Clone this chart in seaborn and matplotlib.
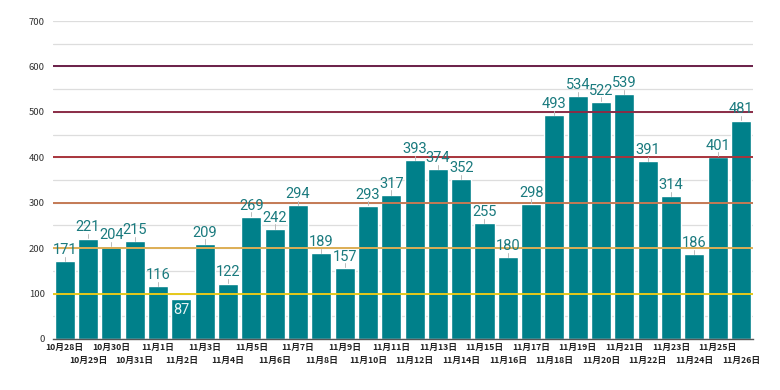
import matplotlib
matplotlib.use('Agg')
import matplotlib.pyplot as plt
import seaborn as sns
import pandas as pd

dates = ['10月28日', '10月29日', '10月30日', '10月31日'] + ['11月%d日' % d for d in range(1, 27)]
counts = [171, 221, 204, 215, 116, 87, 209, 122, 269, 242, 294, 189, 157, 293, 317,
          393, 374, 352, 255, 180, 298, 493, 534, 522, 539, 391, 314, 186, 401, 481]

# reference lines (level, colour)
ref_levels = [100, 200, 300, 400, 500, 600]
ref_colors = ['#E6C81A', '#DDAE55', '#C47A55', '#A8343C', '#8A2C46', '#6A1F48']

df = pd.DataFrame({'date': dates, 'count': counts})

sns.set_style('white')
plt.rcParams['font.family'] = ['Noto Sans CJK JP', 'DejaVu Sans']

fig = plt.figure(figsize=(7.8, 3.9), dpi=100)
ax = fig.add_axes([0.068, 0.131, 0.897, 0.815])

teal = '#00808A'
sns.barplot(data=df, x='date', y='count', color=teal, width=0.86,
            saturation=1, ax=ax, zorder=2)

ax.set_ylim(0, 700)
ax.set_xlim(-0.5, len(dates) - 0.5)
ax.set_yticks(range(0, 701, 100))
ax.set_yticks(range(50, 701, 100), minor=True)
ax.grid(axis='y', which='both', color='#DDDDDD', linewidth=0.9, zorder=0)

for lev, col in zip(ref_levels, ref_colors):
    ax.axhline(lev, color=col, linewidth=1.4, zorder=3)

for i, v in enumerate(counts):
    if v < 100:
        ax.text(i, v - 7, str(v), ha='center', va='top', fontsize=10.5,
                color='#E6F4F4', family='Roboto', zorder=5)
    else:
        ax.plot([i, i], [v + 1, v + 10], color='#BBBBBB', linewidth=0.7, zorder=4)
        ax.text(i, v + 9, str(v), ha='center', va='bottom', fontsize=10.5,
                color='#1A7A7E', family='Roboto', zorder=5)

# staggered date labels: odd ones pushed to a second row
ax.set_xticks(range(len(dates)))
ax.set_xticklabels(dates, fontsize=6.3, color='#222222', fontweight='bold')
ax.tick_params(axis='x', length=0, pad=3)
for i, t in enumerate(ax.xaxis.get_major_ticks()):
    if i % 2 == 1:
        t.set_pad(12.5)
ax.tick_params(axis='y', length=0, pad=6, labelsize=6.8, labelcolor='#333333')
ax.set_xlabel('')
ax.set_ylabel('')
for s in ['top', 'right', 'left']:
    ax.spines[s].set_visible(False)
ax.spines['bottom'].set_color('#555555')
ax.spines['bottom'].set_linewidth(1.0)
ax.spines['bottom'].set_zorder(4)

fig.savefig('out.png', dpi=100)
